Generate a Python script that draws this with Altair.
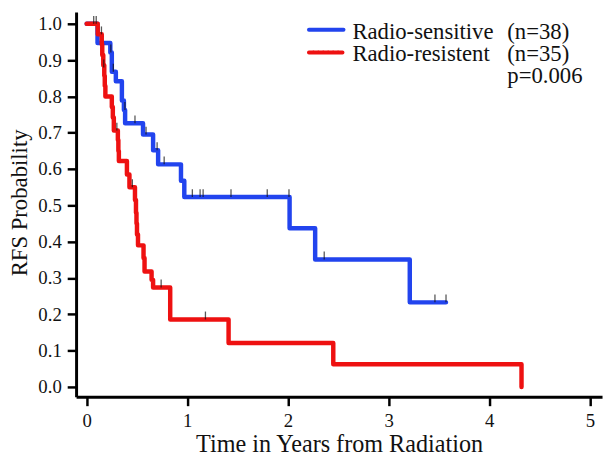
import altair as alt
import pandas as pd

# Kaplan-Meier step curves (time in years, RFS probability)
sens_t = [0.0, 0.108, 0.235, 0.25, 0.29, 0.35, 0.37, 0.382, 0.56, 0.66, 0.71, 0.937, 0.97, 2.016, 2.27, 3.21, 3.57]
sens_s = [1.0, 0.947, 0.921, 0.868, 0.842, 0.789, 0.763, 0.726, 0.695, 0.652, 0.613, 0.568, 0.523, 0.437, 0.351, 0.233, 0.233]

res_t = [0.0, 0.11, 0.15, 0.155, 0.165, 0.175, 0.18, 0.186, 0.25, 0.26, 0.27, 0.31, 0.315, 0.32,
         0.40, 0.425, 0.48, 0.49, 0.495, 0.50, 0.51, 0.565, 0.575, 0.645, 0.66, 0.83, 1.41, 2.45, 4.32]
res_s = [1.0, 0.971, 0.943, 0.914, 0.886, 0.857, 0.829, 0.80, 0.771, 0.742, 0.706, 0.68, 0.65, 0.622,
         0.585, 0.55, 0.515, 0.48, 0.45, 0.42, 0.39, 0.355, 0.318, 0.295, 0.274, 0.186, 0.121, 0.0625, 0.0]

# censoring marks
cens_t = [0.07, 0.095, 0.24, 0.265, 0.38, 0.48, 0.59, 0.70, 0.77, 1.05, 1.127, 1.157, 1.434, 1.794, 2.01, 2.36, 3.46, 3.57,
          0.147, 0.17, 0.30, 0.454, 0.74, 1.18]
cens_s = [1.0, 1.0, 0.921, 0.868, 0.763, 0.726, 0.695, 0.652, 0.613, 0.523, 0.523, 0.523, 0.523, 0.523, 0.523, 0.351, 0.233, 0.233,
          0.971, 0.88, 0.706, 0.55, 0.274, 0.186]

x_ticks = [0, 1, 2, 3, 4, 5]
y_ticks = [0.0, 0.1, 0.2, 0.3, 0.4, 0.5, 0.6, 0.7, 0.8, 0.9, 1.0]

BLUE = "#2244EE"
RED = "#EE1111"
FONT = "Liberation Serif"

sens_df = pd.DataFrame({"t": sens_t, "s": sens_s})
res_df = pd.DataFrame({"t": res_t, "s": res_s})
cens_df = pd.DataFrame({"t": cens_t, "s": cens_s})

xscale = alt.Scale(domain=[-0.105, 5.12], nice=False, zero=False)
yscale = alt.Scale(domain=[-0.027, 1.0326], nice=False, zero=False)

def xaxis():
    return alt.Axis(values=x_ticks, tickCount=6, format="d", title="Time in Years from Radiation",
                    labelFont=FONT, labelFontSize=19, labelPadding=6, labelOverlap=False,
                    titleFont=FONT, titleFontSize=24.5, titleBaseline="alphabetic", titleY=55)

def yaxis():
    return alt.Axis(values=y_ticks, tickCount=11, format=".1f", title="RFS Probability",
                    labelFont=FONT, labelFontSize=19, labelPadding=6, labelOverlap=False,
                    titleFont=FONT, titleFontSize=23, titleAngle=-90, titleBaseline="alphabetic",
                    titleX=-50, titleY=193)

def enc(ch):
    return ch.encode(
        x=alt.X("t:Q", scale=xscale, axis=xaxis()),
        y=alt.Y("s:Q", scale=yscale, axis=yaxis()),
    )

blue = enc(alt.Chart(sens_df).mark_line(color=BLUE, strokeWidth=4.5, interpolate="step-after",
                                        strokeJoin="round", strokeCap="round"))
red = enc(alt.Chart(res_df).mark_line(color=RED, strokeWidth=4.5, interpolate="step-after",
                                      strokeJoin="round", strokeCap="round"))
ticks = enc(alt.Chart(cens_df).mark_tick(color="#111111", orient="vertical", size=8, thickness=1.3, yOffset=-4))

leg_df = pd.DataFrame({"a": [0]})
leg_blue = alt.Chart(leg_df).mark_rule(color=BLUE, strokeWidth=4, strokeCap="round").encode(
    x=alt.value(236), x2=alt.value(271), y=alt.value(18))
leg_red = alt.Chart(leg_df).mark_rule(color=RED, strokeWidth=4, strokeCap="round", strokeDash=[4, 1]).encode(
    x=alt.value(236), x2=alt.value(271), y=alt.value(41))

def txt(s, x, y):
    return alt.Chart(leg_df).mark_text(font=FONT, fontSize=23, align="left", baseline="alphabetic",
                                       color="#111111").encode(
        x=alt.value(x), y=alt.value(y), text=alt.value(s))

legend = (txt("Radio-sensitive", 280, 27) + txt("(n=38)", 437, 27) +
          txt("Radio-resistent", 280, 49.5) + txt("(n=35)", 437, 49.5) +
          txt("p=0.006", 437, 72))

chart = alt.layer(blue, red, ticks, leg_blue, leg_red, legend).properties(
    width=533, height=390,
    autosize=alt.AutoSizeParams(type="none"),
    padding={"left": 69, "top": 1, "right": 3, "bottom": 59},
).configure_view(stroke=None).configure_axis(
    grid=False, domainColor="black", domainWidth=3, tickColor="black", tickWidth=2.5, tickSize=9,
    labelColor="#111111", titleFontWeight="normal", titleColor="#111111",
)

chart.save("out.html", embed_options={"renderer": "svg", "actions": False})
